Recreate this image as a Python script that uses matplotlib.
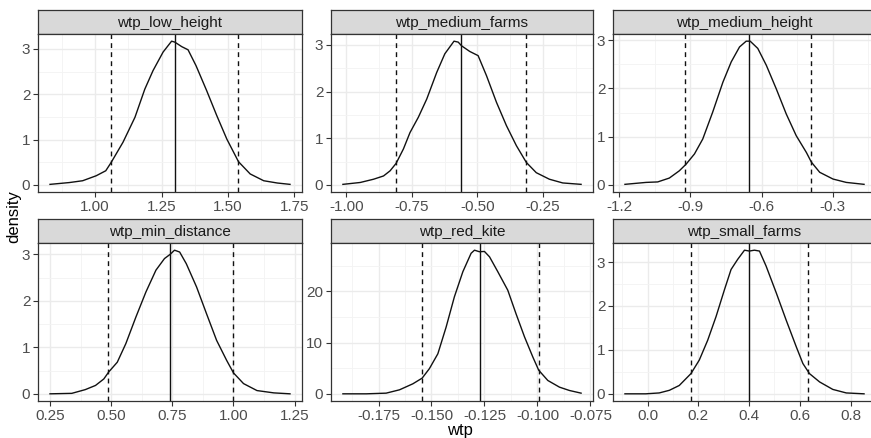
import matplotlib
matplotlib.use("Agg")
import matplotlib.pyplot as plt
import numpy as np

plt.rcParams['font.family'] = ['Liberation Sans', 'DejaVu Sans']
plt.rcParams['axes.unicode_minus'] = False

# facet titles, in facet order
panels = ["wtp_low_height", "wtp_medium_farms", "wtp_medium_height",
          "wtp_min_distance", "wtp_red_kite", "wtp_small_farms"]

# density curves
low_height_x = [0.83, 0.903, 0.953, 1.004, 1.04, 1.06, 1.105, 1.15, 1.187, 1.218, 1.256, 1.288,
                1.30, 1.326, 1.35, 1.38, 1.42, 1.458, 1.496, 1.54, 1.584, 1.635, 1.686, 1.734]
low_height_y = [0.01, 0.05, 0.09, 0.2, 0.31, 0.49, 0.94, 1.49, 2.11, 2.52, 2.93, 3.17,
                3.15, 3.05, 2.98, 2.63, 2.08, 1.53, 1.01, 0.51, 0.24, 0.09, 0.04, 0.01]

medium_farms_x = [-1.013, -0.947, -0.896, -0.858, -0.833, -0.81, -0.782, -0.757, -0.725, -0.693,
                  -0.655, -0.624, -0.589, -0.573, -0.56, -0.529, -0.497, -0.465, -0.427, -0.389,
                  -0.351, -0.313, -0.275, -0.225, -0.174, -0.104]
medium_farms_y = [0.01, 0.05, 0.12, 0.19, 0.3, 0.46, 0.77, 1.12, 1.45, 1.84,
                  2.41, 2.81, 3.08, 3.06, 2.98, 2.86, 2.77, 2.34, 1.77, 1.27,
                  0.84, 0.48, 0.26, 0.12, 0.04, 0.01]

medium_height_x = [-1.176, -1.087, -1.038, -0.989, -0.947, -0.918, -0.883, -0.848, -0.806, -0.763,
                   -0.728, -0.693, -0.665, -0.648, -0.616, -0.58, -0.538, -0.496, -0.454, -0.411,
                   -0.39, -0.355, -0.299, -0.243, -0.168]
medium_height_y = [0.01, 0.05, 0.06, 0.14, 0.29, 0.43, 0.64, 0.95, 1.51, 2.13,
                   2.55, 2.86, 2.98, 2.98, 2.83, 2.48, 1.99, 1.47, 1.02, 0.67,
                   0.47, 0.26, 0.12, 0.05, 0.01]

min_distance_x = [0.25, 0.339, 0.394, 0.436, 0.47, 0.49, 0.525, 0.56, 0.601, 0.642, 0.683, 0.718,
                  0.741, 0.759, 0.78, 0.807, 0.849, 0.89, 0.931, 0.972, 1.0, 1.041, 1.096, 1.165, 1.231]
min_distance_y = [0.0, 0.01, 0.09, 0.18, 0.32, 0.47, 0.68, 1.08, 1.65, 2.19, 2.66, 2.91,
                  3.0, 3.09, 3.05, 2.8, 2.3, 1.72, 1.15, 0.72, 0.45, 0.22, 0.07, 0.02, 0.0]

red_kite_x = [-0.1918, -0.1808, -0.1714, -0.1651, -0.1588, -0.1544, -0.151, -0.147, -0.1431,
              -0.1392, -0.1352, -0.1313, -0.1297, -0.1274, -0.125, -0.1226, -0.1187, -0.114,
              -0.1101, -0.1061, -0.1022, -0.0994, -0.0951, -0.0896, -0.0849, -0.0794]
red_kite_y = [0.0, 0.0, 0.13, 0.78, 1.95, 3.06, 4.9, 7.8, 13.0,
              18.9, 23.8, 27.4, 28.0, 27.7, 27.75, 26.7, 23.8, 20.2,
              15.6, 11.1, 7.2, 4.6, 2.6, 1.3, 0.65, 0.13]

small_farms_x = [-0.089, -0.007, 0.046, 0.086, 0.125, 0.171, 0.204, 0.237, 0.27, 0.303, 0.329,
                 0.355, 0.382, 0.401, 0.421, 0.441, 0.467, 0.507, 0.546, 0.586, 0.612, 0.638,
                 0.678, 0.73, 0.783, 0.853]
small_farms_y = [0.0, 0.0, 0.02, 0.08, 0.19, 0.46, 0.77, 1.22, 1.76, 2.37, 2.83,
                 3.06, 3.27, 3.25, 3.27, 3.25, 2.91, 2.3, 1.68, 1.07, 0.69, 0.46,
                 0.27, 0.1, 0.02, 0.0]

# mean (solid) and interval bounds (dashed)
means = [1.30, -0.562, -0.654, 0.741, -0.127, 0.401]
lower = [1.06, -0.811, -0.921, 0.487, -0.1544, 0.171]
upper = [1.537, -0.313, -0.39, 1.0, -0.0994, 0.632]

x_breaks = [[1.00, 1.25, 1.50, 1.75],
            [-1.00, -0.75, -0.50, -0.25],
            [-1.2, -0.9, -0.6, -0.3],
            [0.25, 0.50, 0.75, 1.00, 1.25],
            [-0.175, -0.150, -0.125, -0.100, -0.075],
            [0.0, 0.2, 0.4, 0.6, 0.8]]
x_fmt = ["{:.2f}", "{:.2f}", "{:.1f}", "{:.2f}", "{:.3f}", "{:.1f}"]
y_breaks = [[0, 1, 2, 3], [0, 1, 2, 3], [0, 1, 2, 3],
            [0, 1, 2, 3], [0, 10, 20], [0, 1, 2, 3]]

curves = [(low_height_x, low_height_y), (medium_farms_x, medium_farms_y),
          (medium_height_x, medium_height_y), (min_distance_x, min_distance_y),
          (red_kite_x, red_kite_y), (small_farms_x, small_farms_y)]

W, H = 871, 438
fig = plt.figure(figsize=(W / 100, H / 100), dpi=100)

# the right column runs past the image edge in the original, so it is clipped
cols = [(38, 302), (331, 593), (613, 876)]
rows = [(10, 34, 192), (219, 243, 401)]  # strip top, panel top, panel bottom

BORDER = '#333333'


def px_axes(left, top, right, bottom):
    return fig.add_axes([left / W, 1 - bottom / H, (right - left) / W, (bottom - top) / H])


def expand(lo, hi, mult=0.05):
    d = (hi - lo) * mult
    return lo - d, hi + d


for i, name in enumerate(panels):
    r, c = divmod(i, 3)
    left, right = cols[c]
    s_top, p_top, p_bot = rows[r]

    # strip
    st = px_axes(left, s_top, right, p_top)
    st.set_facecolor('#D9D9D9')
    st.set_xticks([])
    st.set_yticks([])
    for sp in st.spines.values():
        sp.set_color(BORDER)
        sp.set_linewidth(0.9)
    st.text(0.5 * (right - left if c < 2 else 263) / (right - left), 0.45, name,
            ha='center', va='center', fontsize=11,
            color='#1A1A1A', transform=st.transAxes)

    ax = px_axes(left, p_top, right, p_bot)
    xs, ys = curves[i]
    xlo = min(min(xs), lower[i])
    xhi = max(max(xs), upper[i])

    xb = x_breaks[i]
    yb = y_breaks[i]
    xstep = xb[1] - xb[0]
    ystep = yb[1] - yb[0]
    ax.set_xticks(xb)
    ax.set_xticklabels([x_fmt[i].format(v) for v in xb])
    ax.set_yticks(yb)
    ax.set_yticklabels([str(v) for v in yb])
    ax.set_xticks(np.arange(xb[0] - xstep / 2, xb[-1] + xstep, xstep), minor=True)
    ax.set_yticks(np.arange(yb[0] - ystep / 2, yb[-1] + ystep, ystep), minor=True)
    ax.set_xlim(*expand(xlo, xhi))
    ax.set_ylim(*expand(0, max(ys)))

    ax.grid(which='major', color='#EBEBEB', linewidth=1.0)
    ax.grid(which='minor', color='#F3F3F3', linewidth=0.6)
    ax.set_axisbelow(True)
    ax.tick_params(which='major', direction='out', length=3.5, width=0.8, color=BORDER,
                   labelsize=11, labelcolor='#4D4D4D', pad=2)
    ax.tick_params(which='minor', length=0)
    for sp in ax.spines.values():
        sp.set_color(BORDER)
        sp.set_linewidth(0.9)

    ax.plot(xs, ys, color='#111111', linewidth=1.0, solid_joinstyle='round')
    ax.axvline(means[i], color='#111111', linewidth=1.0)
    ax.axvline(lower[i], color='#111111', linewidth=1.0, dashes=(3.5, 3))
    ax.axvline(upper[i], color='#111111', linewidth=1.0, dashes=(3.5, 3))

fig.text(14 / W, 1 - 217 / H, 'density', rotation=90, ha='center', va='center', fontsize=12)
fig.text(460 / W, 1 - 430 / H, 'wtp', ha='center', va='center', fontsize=12)

fig.savefig('out.png', dpi=100)
plt.close()
